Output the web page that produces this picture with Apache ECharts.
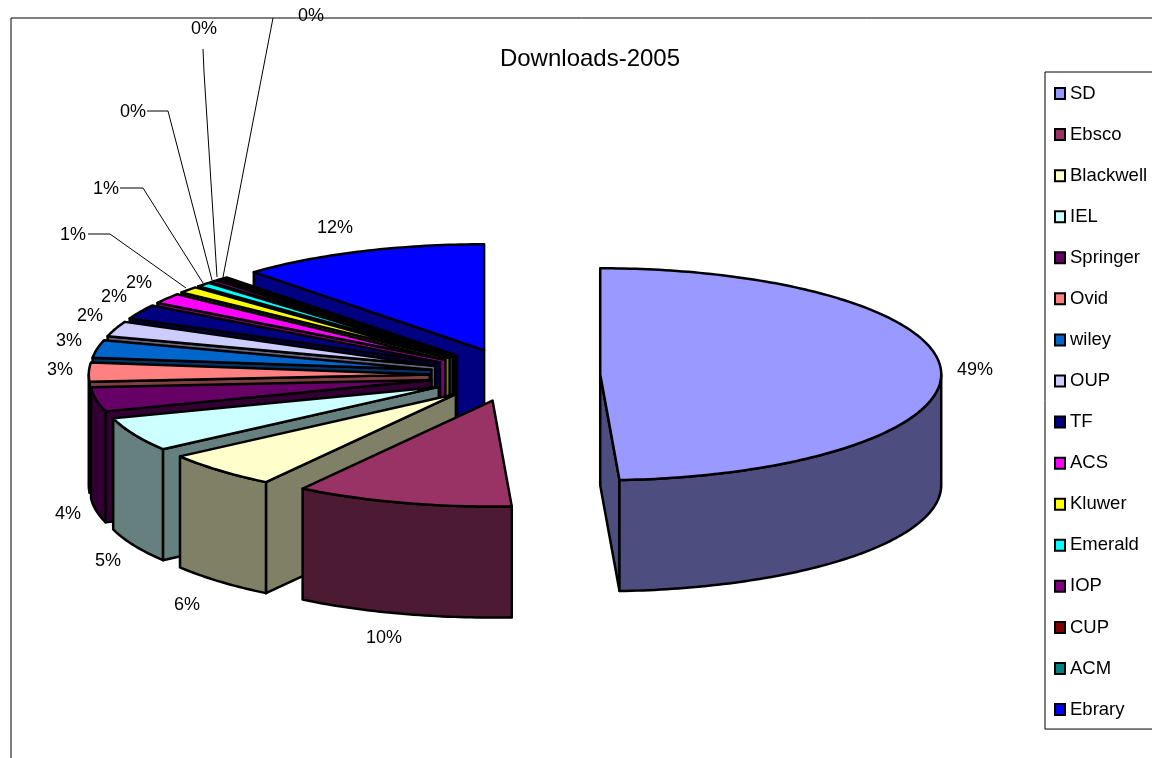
<!DOCTYPE html>
<html><head><meta charset="utf-8">
<style>html,body{margin:0;padding:0;background:#fff;overflow:hidden}#c{width:1152px;height:758px}</style>
<script src="https://cdn.jsdelivr.net/npm/echarts@6/dist/echarts.min.js"></script>
</head><body><div id="c"></div>
<script>
const categories = ['SD','Ebsco','Blackwell','IEL','Springer','Ovid','wiley','OUP','TF','ACS','Kluwer','Emerald','IOP','CUP','ACM','Ebrary'];
const shares = [49.1,10.3,5.6,5.2,3.7,2.9,2.7,2.3,2.2,1.6,1.0,0.7,0.4,0.3,0.2,11.8];
const topColors = ['#9999FF','#993366','#FFFFCC','#CCFFFF','#660066','#FF8080','#0066CC','#CCCCFF','#000080','#FF00FF','#FFFF00','#00FFFF','#800080','#800000','#008080','#0000FF'];
const sideColors = ['#4D4D80','#4D1A33','#808066','#668080','#330033','#804040','#003366','#666680','#000040','#800080','#808000','#008080','#400040','#400000','#004040','#000080'];
// layout of the pseudo-3D pie (not data)
const PIE = {cx:515, cy:375, rx:341, ry:106, depth:111, explode:0.25};
// label text anchors (centre) and optional leader-line elbows
const labelAnchors = [[975,370],[384,638],[187,605],[108,561],[68,514],[60,370],[69,341],[90,316],[114,297],[139,283],[73,235],[106,189],[133,112],[204,29],[311,16],[335,228]];
const leaderStart = {10:[88,234],11:[120,188],12:[147,111],13:[203,49],14:[273,18]};
const leaderElbow = {10:[110,234],11:[143,188],12:[168,111],13:[204,72]};
const leaderEnd = {10:[186,288],11:[203,283],12:[212,280],13:[217,277],14:[223,277]};

const total = shares.reduce((a,b)=>a+b,0);
const rad = d => d*Math.PI/180;
function pt(c, deg, r=1, dz=0){
  return [c[0]+PIE.rx*r*Math.sin(rad(deg)), c[1]-PIE.ry*r*Math.cos(rad(deg))+dz];
}
function arc(c, a, b, dz=0){
  const out=[]; const n=Math.max(2,Math.ceil(Math.abs(b-a)));
  for(let i=0;i<=n;i++) out.push(pt(c,a+(b-a)*i/n,1,dz));
  return out;
}
let acc=0;
const slices = shares.map(v=>{
  const a0=acc/total*360; acc+=v; const a1=acc/total*360;
  const mid=(a0+a1)/2;
  return {a0,a1,c:[PIE.cx+PIE.rx*PIE.explode*Math.sin(rad(mid)), PIE.cy-PIE.ry*PIE.explode*Math.cos(rad(mid))]};
});
const strokeBase={stroke:'#000',lineWidth:2.5,lineJoin:'round'};
function poly(points,fill){return {type:'polygon',shape:{points},style:Object.assign({fill},strokeBase),silent:true};}
function buildSlice(i){
  const s=slices[i], ch=[], side=sideColors[i], d=PIE.depth, c=s.c;
  // front-facing cut faces
  if(Math.sin(rad(s.a0))<-1e-6){
    const p=pt(c,s.a0); ch.push(poly([c,p,[p[0],p[1]+d],[c[0],c[1]+d]],side));
  }
  if(Math.sin(rad(s.a1))>1e-6){
    const p=pt(c,s.a1); ch.push(poly([c,p,[p[0],p[1]+d],[c[0],c[1]+d]],side));
  }
  // outer wall for the front half of the ellipse
  const w0=Math.max(s.a0,90), w1=Math.min(s.a1,270);
  if(w1>w0){
    ch.push(poly(arc(c,w0,w1).concat(arc(c,w1,w0,d)),side));
  }
  // top
  ch.push(poly([c].concat(arc(c,s.a0,s.a1)),topColors[i]));
  return ch;
}
function buildLabel(i){
  const ch=[];
  if(leaderStart[i]){
    const pts=[leaderStart[i]]; if(leaderElbow[i])pts.push(leaderElbow[i]); pts.push(leaderEnd[i]);
    ch.push({type:'polyline',shape:{points:pts},style:{stroke:'#000',lineWidth:1,fill:null},silent:true});
  }
  ch.push({type:'text',x:labelAnchors[i][0],y:labelAnchors[i][1],silent:true,
    style:{text:Math.round(shares[i])+'%',fontFamily:'"Liberation Sans",Arial,sans-serif',fontSize:18,fill:'#000',align:'center',verticalAlign:'middle'}});
  return ch;
}
// painter's order: back slices first, going round to the front
const drawOrder=[15,14,13,12,11,10,9,8,7,6,5,4,3,2,1,0];
const series=drawOrder.map((i,rank)=>({
  type:'custom',name:categories[i],coordinateSystem:'none',silent:true,z:2+rank,animation:false,
  itemStyle:{color:topColors[i]},data:[[shares[i]]],
  renderItem:()=>({type:'group',children:buildSlice(i)})
}));
series.push({type:'custom',name:'labels',coordinateSystem:'none',silent:true,z:40,animation:false,data:[[0]],
  renderItem:()=>({type:'group',children:categories.flatMap((_,i)=>buildLabel(i))})});

const chart=echarts.init(document.getElementById('c'),null,{renderer:'canvas'});
chart.setOption({
  backgroundColor:'#fff',animation:false,
  title:{text:'Downloads-2005',left:585,top:42,textAlign:'center',textStyle:{fontFamily:'"Liberation Sans",Arial,sans-serif',fontSize:24,fontWeight:'normal',color:'#000'}},
  legend:{data:categories,orient:'vertical',left:1045,top:72,itemWidth:10,itemHeight:11,itemGap:22.07,padding:[12,10,10,9],
    icon:'rect',borderColor:'#000',borderWidth:1,selectedMode:false,
    itemStyle:{borderColor:'#000',borderWidth:2},
    textStyle:{fontFamily:'"Liberation Sans",Arial,sans-serif',fontSize:18.5,color:'#000',lineHeight:18,height:18}},
  graphic:[
    {type:'polyline',z:1,silent:true,shape:{points:[[11,758],[11,18],[1152,18]]},style:{stroke:'#000',lineWidth:1,fill:null}}
  ],
  series
});
</script></body></html>
